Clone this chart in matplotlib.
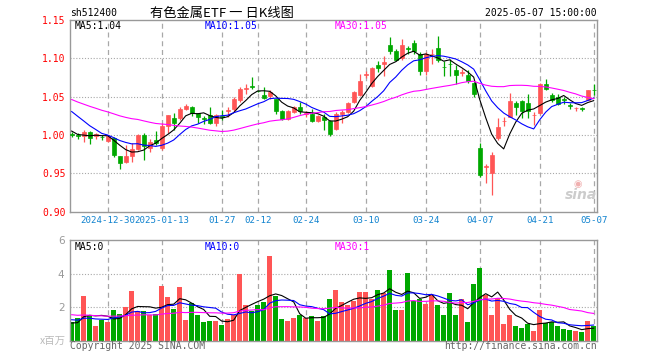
import numpy as np
import pandas as pd
import matplotlib
matplotlib.use("Agg")
import matplotlib.pyplot as plt

# 取引日 (2024-12-20 ~ 2025-05-07, 休場日を除く)
holidays = ["2025-01-01", "2025-01-28", "2025-01-29", "2025-01-30", "2025-01-31",
            "2025-02-03", "2025-02-04", "2025-04-04", "2025-05-01", "2025-05-02",
            "2025-05-05"]
dates = pd.bdate_range("2024-12-20", "2025-05-07")
dates = dates[~dates.isin(pd.to_datetime(holidays))]

tick_dates = ["2024-12-30", "2025-01-13", "2025-01-27", "2025-02-12", "2025-02-24",
              "2025-03-10", "2025-03-24", "2025-04-07", "2025-04-21", "2025-05-07"]
tick_labels = ["2024-12-30", "2025-01-13", "01-27", "02-12", "02-24",
               "03-10", "03-24", "04-07", "04-21", "05-07"]

# 四本値
opens = [1.001, 1.000, 0.999, 1.0035, 0.998, 0.9975, 0.9925, 0.9955, 0.972, 0.964,
         0.972, 0.9815, 1.000, 0.9825, 0.993, 0.983, 1.0115, 1.022, 1.022, 1.034,
         1.037, 1.028, 1.0215, 1.026, 1.015, 1.0245, 1.031, 1.034, 1.045, 1.060,
         1.064, 1.0575, 1.052, 1.051, 1.047, 1.0315, 1.0205, 1.030, 1.036, 1.027,
         1.027, 1.018, 1.0235, 1.018, 1.008, 1.0274, 1.030, 1.043, 1.0516, 1.078,
         1.064, 1.0913, 1.0926, 1.118, 1.1094, 1.100, 1.113, 1.120, 1.1058, 1.0837,
         1.105, 1.1133, 1.0885, 1.093, 1.085, 1.0805, 1.078, 1.0675, 0.983, 0.9585,
         0.950, 0.9956, 1.0175, 1.024, 1.042, 1.044, 1.041, 1.026, 1.0287, 1.066,
         1.052, 1.0493, 1.0465, 1.0385, 1.0345, 1.0345, 1.046, 1.059]
highs = [1.004, 1.002, 1.006, 1.005, 1.002, 1.000, 1.000, 0.997, 0.973, 0.987,
         0.989, 1.001, 1.002, 0.994, 1.005, 1.015, 1.026, 1.029, 1.036, 1.040,
         1.038, 1.029, 1.025, 1.037, 1.027, 1.032, 1.037, 1.049, 1.062, 1.067,
         1.076, 1.058, 1.062, 1.058, 1.047, 1.033, 1.032, 1.038, 1.0425, 1.0315,
         1.034, 1.026, 1.027, 1.019, 1.030, 1.033, 1.043, 1.057, 1.080, 1.084,
         1.089, 1.097, 1.103, 1.128, 1.1124, 1.1257, 1.1155, 1.124, 1.108, 1.108,
         1.1124, 1.1287, 1.097, 1.0985, 1.091, 1.086, 1.085, 1.069, 0.9898, 0.9626,
         0.978, 1.022, 1.024, 1.055, 1.044, 1.045, 1.053, 1.0295, 1.068, 1.0728,
         1.055, 1.053, 1.050, 1.042, 1.037, 1.037, 1.058, 1.066]
lows = [0.997, 0.995, 0.991, 0.988, 0.994, 0.993, 0.991, 0.971, 0.956, 0.963,
        0.964, 0.980, 0.967, 0.978, 0.987, 0.980, 1.003, 1.007, 1.020, 1.032,
        1.025, 1.015, 1.014, 1.014, 1.012, 1.020, 1.024, 1.030, 1.043, 1.054,
        1.060, 1.056, 1.047, 1.047, 1.027, 1.0195, 1.019, 1.029, 1.027, 1.023,
        1.017, 1.017, 1.007, 0.999, 1.0066, 1.0155, 1.029, 1.042, 1.051, 1.074,
        1.062, 1.0816, 1.077, 1.1058, 1.097, 1.098, 1.105, 1.105, 1.078, 1.078,
        1.0926, 1.0948, 1.077, 1.077, 1.066, 1.077, 1.068, 1.050, 0.9448, 0.937,
        0.922, 0.9934, 1.012, 1.0235, 1.0265, 1.022, 1.022, 1.013, 1.027, 1.058,
        1.043, 1.039, 1.040, 1.034, 1.031, 1.031, 1.045, 1.0516]
closes = [1.000, 0.998, 1.0035, 0.9955, 1.001, 0.997, 0.998, 0.974, 0.963, 0.972,
          0.981, 1.000, 0.985, 0.991, 0.989, 1.0115, 1.026, 1.015, 1.034, 1.038,
          1.028, 1.023, 1.021, 1.016, 1.026, 1.023, 1.033, 1.047, 1.060, 1.061,
          1.062, 1.057, 1.048, 1.0566, 1.0315, 1.0205, 1.0315, 1.036, 1.0315, 1.028,
          1.018, 1.025, 1.0195, 1.0007, 1.0274, 1.030, 1.041, 1.056, 1.0705, 1.080,
          1.0875, 1.0873, 1.0956, 1.1094, 1.0979, 1.118, 1.112, 1.109, 1.0837, 1.1058,
          1.1058, 1.098, 1.088, 1.0925, 1.0785, 1.0816, 1.0705, 1.054, 0.947, 0.9594,
          0.9735, 1.0102, 1.0185, 1.044, 1.037, 1.031, 1.031, 1.0265, 1.066, 1.0595,
          1.046, 1.0397, 1.046, 1.038, 1.035, 1.034, 1.058, 1.0586]
# 出来高 (百万)
volumes = [1.10, 1.34, 2.64, 1.44, 0.84, 1.24, 1.08, 1.84, 1.58, 1.98,
           2.98, 1.78, 1.78, 1.54, 1.58, 3.24, 2.58, 1.90, 3.18, 1.24,
           2.26, 1.50, 1.08, 1.14, 1.18, 0.90, 1.30, 1.54, 4.00, 2.14,
           1.78, 2.14, 2.28, 5.02, 2.68, 1.30, 1.18, 1.34, 1.50, 1.34,
           1.44, 1.18, 1.44, 2.50, 3.04, 2.30, 2.14, 2.34, 2.90, 2.90,
           2.50, 3.04, 2.84, 4.18, 1.84, 1.84, 4.04, 2.34, 2.50, 2.20,
           2.70, 2.14, 1.54, 2.84, 1.50, 2.50, 1.10, 3.38, 4.30, 2.70,
           1.54, 2.54, 1.00, 1.54, 0.88, 0.74, 1.00, 0.58, 1.84, 1.04,
           1.10, 0.88, 0.70, 0.64, 0.54, 0.48, 1.18, 0.84]

# 表示期間より前の終値・出来高 (移動平均の計算用, MA線の始点から推定)
hist_close = [1.095, 1.088, 1.080, 1.076, 1.076, 1.062, 1.050, 1.041, 1.033, 1.032,
              1.030, 1.041, 1.045, 1.036, 1.0345, 1.044, 1.050, 1.058, 1.055, 1.054,
              1.060, 1.064, 1.058, 1.050, 1.048, 1.020, 1.008, 1.000, 0.997]
hist_volume = [2.4, 2.1, 1.9, 1.6, 1.5, 1.8, 1.7, 1.4, 1.6, 1.9,
               1.5, 1.3, 1.6, 1.8, 1.7, 1.5, 1.4, 1.6, 1.7, 1.8,
               1.6, 1.5, 1.4, 1.3, 1.4, 1.2, 0.9, 1.0, 1.0]

RED = "#ff5555"
GREEN = "#00a800"
GRID = "#a8a8a8"
MONO = "DejaVu Sans Mono"
CJK = ["Noto Sans CJK SC", "DejaVu Sans"]

n = len(closes)
x = np.arange(n)
o = np.array(opens)
c = np.array(closes)
h = np.array(highs)
l = np.array(lows)
v = np.array(volumes)
up = c >= o
colors = np.where(up, RED, GREEN)

# 移動平均
cs = pd.Series(hist_close + closes)
vs = pd.Series(hist_volume + volumes)
k = len(hist_close)
ma = {p: cs.rolling(p).mean().values[k:] for p in (5, 10, 30)}
vma = {p: vs.rolling(p).mean().values[k:] for p in (5, 10, 30)}
ma_colors = {5: "black", 10: "#0000ff", 30: "#ff00ff"}

W, H = 660, 360
fig = plt.figure(figsize=(6.6, 3.6), dpi=100)


def fx(px):
    return px / W


def fy(py):
    return 1 - py / H


ax = fig.add_axes([fx(70), fy(211.5), 527 / W, 191.5 / H])
axv = fig.add_axes([fx(70), fy(340.5), 527 / W, 100.5 / H])

tick_pos = [int(np.where(dates == pd.Timestamp(d))[0][0]) for d in tick_dates]

for a in (ax, axv):
    a.set_xlim(-0.28, n - 0.45)
    for s in a.spines.values():
        s.set_color("#999999")
        s.set_linewidth(1)
    for p in tick_pos:
        a.axvline(p, color=GRID, lw=0.9, ls=(0, (4, 3)), zorder=0)
    a.tick_params(length=0)

# ローソク足
ax.vlines(x, l, h, colors=colors, lw=0.9, zorder=2)
ax.bar(x, np.abs(c - o), bottom=np.minimum(o, c), width=0.72,
       color=colors, edgecolor=colors, linewidth=0.5, zorder=3)
for p in (5, 10, 30):
    ax.plot(x, ma[p], color=ma_colors[p], lw=0.8, zorder=4)

ax.set_ylim(0.90, 1.15)
for yv in (0.95, 1.00, 1.05, 1.10):
    ax.axhline(yv, color=GRID, lw=0.8, ls=(0, (1, 1.6)), zorder=0)
yt = [0.90, 0.95, 1.00, 1.05, 1.10, 1.15]
ax.set_yticks(yt)
ax.set_yticklabels(["%.2f" % t for t in yt], color="red", fontsize=7, family=MONO)
ax.tick_params(axis="y", pad=3)
ax.set_xticks(tick_pos)
ax.set_xticklabels(tick_labels, color="#1183cf", fontsize=6.6, family=MONO)
ax.tick_params(axis="x", pad=3.5)

# 出来高
axv.bar(x, v, width=0.82, color=colors, zorder=2)
for p in (5, 10, 30):
    axv.plot(x, vma[p], color=ma_colors[p], lw=0.8, zorder=4)
axv.set_ylim(0, 6)
for yv in (2, 4):
    axv.axhline(yv, color=GRID, lw=0.8, ls=(0, (1, 1.6)), zorder=0)
axv.set_yticks([2, 4, 6])
axv.set_yticklabels(["2", "4", "6"], color="#999999", fontsize=7.5)
axv.tick_params(axis="y", pad=4)
axv.set_xticks([])

# テキスト
fig.text(fx(70), fy(13), "sh512400", ha="left", va="center", fontsize=7, family=MONO)
fig.text(fx(150), fy(13), "有色金属ETF 一 日K线图", ha="left", va="center",
         fontsize=9.5, family=CJK)
fig.text(fx(597), fy(13), "2025-05-07 15:00:00", ha="right", va="center",
         fontsize=7, family=MONO)

xs = {5: 75, 10: 205, 30: 335}
for p in (5, 10, 30):
    fig.text(fx(xs[p]), fy(26), "MA%d:%.2f" % (p, ma[p][-1]), ha="left", va="center",
             fontsize=7, family=MONO, color=ma_colors[p])
    fig.text(fx(xs[p]), fy(246.5), "MA%d:%d" % (p, int(vma[p][-1])), ha="left",
             va="center", fontsize=7, family=MONO, color=ma_colors[p])

fig.text(fx(66), fy(341), "x百万", ha="right", va="center", fontsize=7.5,
         family=CJK, color="#bbbbbb")
fig.text(fx(70), fy(346), "Copyright 2025 SINA.COM", ha="left", va="center",
         fontsize=7, family=MONO, color="#666666")
fig.text(fx(597), fy(346), "http://finance.sina.com.cn", ha="right", va="center",
         fontsize=7, family=MONO, color="#666666")
fig.text(fx(581), fy(195), "sina", ha="center", va="center", fontsize=10,
         style="italic", weight="bold", color="#cccccc")
fig.text(fx(578), fy(184), "◉", ha="center", va="center", fontsize=7,
         color="#f0b0b0")

fig.savefig("out.png", dpi=100)
